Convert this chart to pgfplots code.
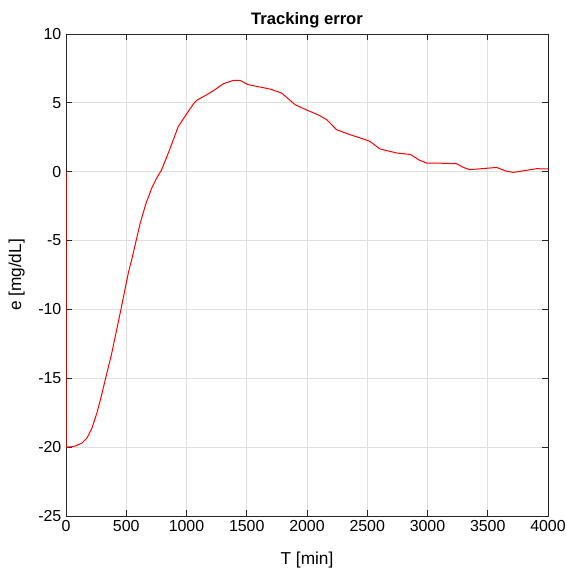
\documentclass[border=0pt]{standalone}
\usepackage{fontspec}
\setmainfont{Liberation Sans}
\usepackage{pgfplots}
\pgfplotsset{compat=1.18}
\definecolor{gridgray}{RGB}{223,223,223}
\definecolor{axgray}{RGB}{38,38,38}

\begin{document}
\begin{tikzpicture}
  \begin{axis}[
    scale only axis,
    width=361.5bp, height=361.5bp,
    xmin=0, xmax=4000,
    ymin=-25, ymax=10,
    xtick={0,500,...,4000},
    ytick={-25,-20,...,10},
    /pgf/number format/assume math mode=true,
    /pgf/number format/set thousands separator={},
    tick label style={font=\fontsize{12}{12}\selectfont, text=black},
    grid=major,
    grid style={gridgray, line width=0.6pt},
    axis line style={axgray, line width=0.6pt},
    tick style={axgray, line width=0.6pt},
    tick align=inside,
    major tick length=4.5bp,
    title={Tracking error},
    title style={font=\bfseries\fontsize{12.5}{12.5}\selectfont,
      at={(axis description cs:0.5,1.0125)}, anchor=center},
    xlabel={T [min]},
    xlabel style={font=\fontsize{13}{13}\selectfont,
      at={(axis description cs:0.5,-0.0913)}, anchor=center},
    ylabel={e [mg/dL]},
    ylabel style={font=\fontsize{13}{13}\selectfont,
      at={(axis description cs:-0.1024,0.5)}, anchor=center},
  ]
  \addplot[red, line width=0.75bp] coordinates {
    (0,0) (0,-20) (40,-19.98) (77,-19.92) (133,-19.7) (174,-19.34)
    (216,-18.6) (257,-17.5) (293,-16.3) (326,-15.1) (379,-13.2)
    (456,-10.0) (517,-7.36) (545,-6.4) (614,-3.8) (660,-2.4)
    (711,-1.2) (750,-0.5) (794,0.15) (860,1.6) (932,3.29) (1015,4.38)
    (1060,4.95) (1084,5.18) (1160,5.55) (1237,5.96) (1306,6.39)
    (1389,6.63) (1444,6.63) (1513,6.32) (1610,6.15) (1693,6.0)
    (1790,5.71) (1900,4.87) (2006,4.45) (2100,4.1) (2163,3.78)
    (2246,3.05) (2357,2.69) (2460,2.4) (2523,2.2) (2606,1.65)
    (2744,1.36) (2860,1.25) (2930,0.85) (2993,0.63) (3100,0.62)
    (3242,0.58) (3300,0.3) (3353,0.15) (3574,0.31) (3620,0.15)
    (3657,0.03) (3712,-0.05) (3906,0.22) (4000,0.2)
  };
  \end{axis}
  \pgfresetboundingbox
  \path (-49.5bp,-42bp) rectangle (375.75bp,387bp);
\end{tikzpicture}
\end{document}
